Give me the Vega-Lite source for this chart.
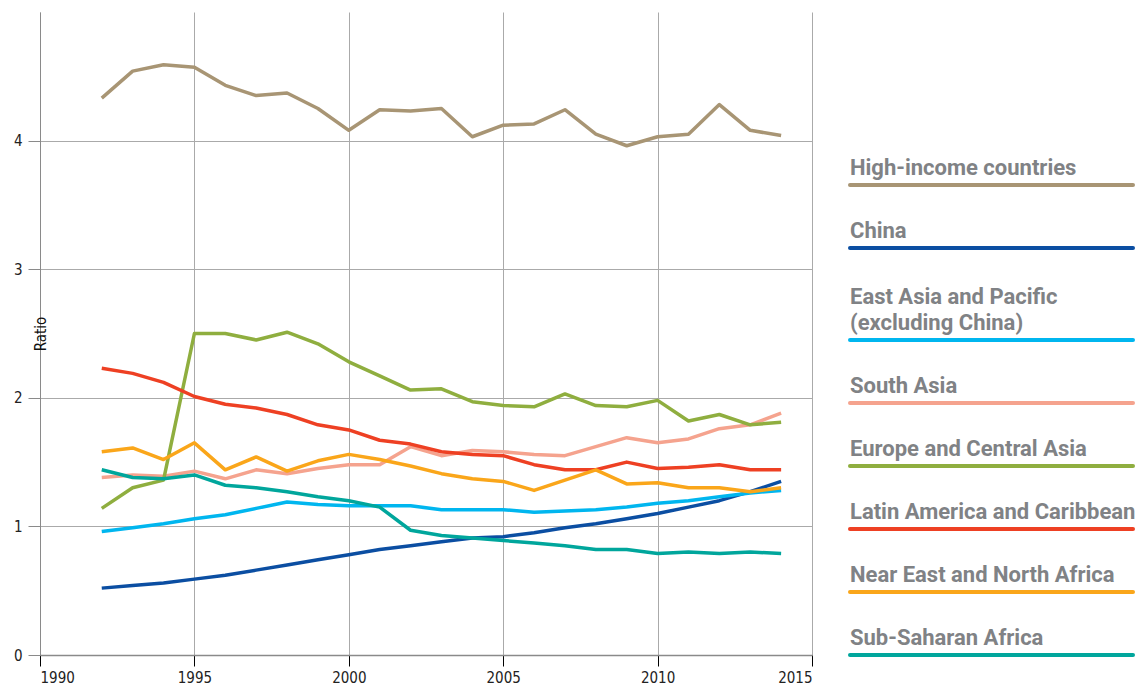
{
  "$schema": "https://vega.github.io/schema/vega-lite/v6.json",
  "background": "white",
  "padding": {"left": 13, "top": 12, "right": 4, "bottom": 0},
  "config": {
    "view": {"stroke": null},
    "font": "Roboto"
  },
  "datasets": {
    "series": [
      {"year": 1992, "High-income countries": 4.33, "China": 0.52, "East Asia and Pacific (excluding China)": 0.96, "South Asia": 1.38, "Europe and Central Asia": 1.14, "Latin America and Caribbean": 2.23, "Near East and North Africa": 1.58, "Sub-Saharan Africa": 1.44},
      {"year": 1993, "High-income countries": 4.54, "China": 0.54, "East Asia and Pacific (excluding China)": 0.99, "South Asia": 1.40, "Europe and Central Asia": 1.30, "Latin America and Caribbean": 2.19, "Near East and North Africa": 1.61, "Sub-Saharan Africa": 1.38},
      {"year": 1994, "High-income countries": 4.59, "China": 0.56, "East Asia and Pacific (excluding China)": 1.02, "South Asia": 1.39, "Europe and Central Asia": 1.36, "Latin America and Caribbean": 2.12, "Near East and North Africa": 1.52, "Sub-Saharan Africa": 1.37},
      {"year": 1995, "High-income countries": 4.57, "China": 0.59, "East Asia and Pacific (excluding China)": 1.06, "South Asia": 1.43, "Europe and Central Asia": 2.50, "Latin America and Caribbean": 2.01, "Near East and North Africa": 1.65, "Sub-Saharan Africa": 1.40},
      {"year": 1996, "High-income countries": 4.43, "China": 0.62, "East Asia and Pacific (excluding China)": 1.09, "South Asia": 1.37, "Europe and Central Asia": 2.50, "Latin America and Caribbean": 1.95, "Near East and North Africa": 1.44, "Sub-Saharan Africa": 1.32},
      {"year": 1997, "High-income countries": 4.35, "China": 0.66, "East Asia and Pacific (excluding China)": 1.14, "South Asia": 1.44, "Europe and Central Asia": 2.45, "Latin America and Caribbean": 1.92, "Near East and North Africa": 1.54, "Sub-Saharan Africa": 1.30},
      {"year": 1998, "High-income countries": 4.37, "China": 0.70, "East Asia and Pacific (excluding China)": 1.19, "South Asia": 1.41, "Europe and Central Asia": 2.51, "Latin America and Caribbean": 1.87, "Near East and North Africa": 1.43, "Sub-Saharan Africa": 1.27},
      {"year": 1999, "High-income countries": 4.25, "China": 0.74, "East Asia and Pacific (excluding China)": 1.17, "South Asia": 1.45, "Europe and Central Asia": 2.42, "Latin America and Caribbean": 1.79, "Near East and North Africa": 1.51, "Sub-Saharan Africa": 1.23},
      {"year": 2000, "High-income countries": 4.08, "China": 0.78, "East Asia and Pacific (excluding China)": 1.16, "South Asia": 1.48, "Europe and Central Asia": 2.28, "Latin America and Caribbean": 1.75, "Near East and North Africa": 1.56, "Sub-Saharan Africa": 1.20},
      {"year": 2001, "High-income countries": 4.24, "China": 0.82, "East Asia and Pacific (excluding China)": 1.16, "South Asia": 1.48, "Europe and Central Asia": 2.17, "Latin America and Caribbean": 1.67, "Near East and North Africa": 1.52, "Sub-Saharan Africa": 1.15},
      {"year": 2002, "High-income countries": 4.23, "China": 0.85, "East Asia and Pacific (excluding China)": 1.16, "South Asia": 1.62, "Europe and Central Asia": 2.06, "Latin America and Caribbean": 1.64, "Near East and North Africa": 1.47, "Sub-Saharan Africa": 0.97},
      {"year": 2003, "High-income countries": 4.25, "China": 0.88, "East Asia and Pacific (excluding China)": 1.13, "South Asia": 1.55, "Europe and Central Asia": 2.07, "Latin America and Caribbean": 1.58, "Near East and North Africa": 1.41, "Sub-Saharan Africa": 0.93},
      {"year": 2004, "High-income countries": 4.03, "China": 0.91, "East Asia and Pacific (excluding China)": 1.13, "South Asia": 1.59, "Europe and Central Asia": 1.97, "Latin America and Caribbean": 1.56, "Near East and North Africa": 1.37, "Sub-Saharan Africa": 0.91},
      {"year": 2005, "High-income countries": 4.12, "China": 0.92, "East Asia and Pacific (excluding China)": 1.13, "South Asia": 1.58, "Europe and Central Asia": 1.94, "Latin America and Caribbean": 1.55, "Near East and North Africa": 1.35, "Sub-Saharan Africa": 0.89},
      {"year": 2006, "High-income countries": 4.13, "China": 0.95, "East Asia and Pacific (excluding China)": 1.11, "South Asia": 1.56, "Europe and Central Asia": 1.93, "Latin America and Caribbean": 1.48, "Near East and North Africa": 1.28, "Sub-Saharan Africa": 0.87},
      {"year": 2007, "High-income countries": 4.24, "China": 0.99, "East Asia and Pacific (excluding China)": 1.12, "South Asia": 1.55, "Europe and Central Asia": 2.03, "Latin America and Caribbean": 1.44, "Near East and North Africa": 1.36, "Sub-Saharan Africa": 0.85},
      {"year": 2008, "High-income countries": 4.05, "China": 1.02, "East Asia and Pacific (excluding China)": 1.13, "South Asia": 1.62, "Europe and Central Asia": 1.94, "Latin America and Caribbean": 1.44, "Near East and North Africa": 1.44, "Sub-Saharan Africa": 0.82},
      {"year": 2009, "High-income countries": 3.96, "China": 1.06, "East Asia and Pacific (excluding China)": 1.15, "South Asia": 1.69, "Europe and Central Asia": 1.93, "Latin America and Caribbean": 1.50, "Near East and North Africa": 1.33, "Sub-Saharan Africa": 0.82},
      {"year": 2010, "High-income countries": 4.03, "China": 1.10, "East Asia and Pacific (excluding China)": 1.18, "South Asia": 1.65, "Europe and Central Asia": 1.98, "Latin America and Caribbean": 1.45, "Near East and North Africa": 1.34, "Sub-Saharan Africa": 0.79},
      {"year": 2011, "High-income countries": 4.05, "China": 1.15, "East Asia and Pacific (excluding China)": 1.20, "South Asia": 1.68, "Europe and Central Asia": 1.82, "Latin America and Caribbean": 1.46, "Near East and North Africa": 1.30, "Sub-Saharan Africa": 0.80},
      {"year": 2012, "High-income countries": 4.28, "China": 1.20, "East Asia and Pacific (excluding China)": 1.23, "South Asia": 1.76, "Europe and Central Asia": 1.87, "Latin America and Caribbean": 1.48, "Near East and North Africa": 1.30, "Sub-Saharan Africa": 0.79},
      {"year": 2013, "High-income countries": 4.08, "China": 1.27, "East Asia and Pacific (excluding China)": 1.26, "South Asia": 1.79, "Europe and Central Asia": 1.79, "Latin America and Caribbean": 1.44, "Near East and North Africa": 1.27, "Sub-Saharan Africa": 0.80},
      {"year": 2014, "High-income countries": 4.04, "China": 1.35, "East Asia and Pacific (excluding China)": 1.28, "South Asia": 1.88, "Europe and Central Asia": 1.81, "Latin America and Caribbean": 1.44, "Near East and North Africa": 1.30, "Sub-Saharan Africa": 0.79}
    ],
    "legend": [
      {"region": "High-income countries", "label": "High-income countries", "lines": 1, "slot": 7.46},
      {"region": "China", "label": "China", "lines": 1, "slot": 6.46},
      {"region": "East Asia and Pacific (excluding China)", "label": "East Asia and Pacific\n(excluding China)", "lines": 2, "slot": 5},
      {"region": "South Asia", "label": "South Asia", "lines": 1, "slot": 4},
      {"region": "Europe and Central Asia", "label": "Europe and Central Asia", "lines": 1, "slot": 3},
      {"region": "Latin America and Caribbean", "label": "Latin America and Caribbean", "lines": 1, "slot": 2},
      {"region": "Near East and North Africa", "label": "Near East and North Africa", "lines": 1, "slot": 1},
      {"region": "Sub-Saharan Africa", "label": "Sub-Saharan Africa", "lines": 1, "slot": 0}
    ]
  },
  "hconcat": [
    {
      "width": 772,
      "height": 643,
      "data": {"name": "series"},
      "transform": [
        {"fold": ["High-income countries", "China", "East Asia and Pacific (excluding China)", "South Asia", "Europe and Central Asia", "Latin America and Caribbean", "Near East and North Africa", "Sub-Saharan Africa"], "as": ["region", "value"]}
      ],
      "mark": {"type": "line", "strokeWidth": 3.5, "strokeJoin": "round", "strokeCap": "butt"},
      "encoding": {
        "x": {
          "field": "year", "type": "quantitative",
          "scale": {"domain": [1990, 2015], "nice": false, "zero": false},
          "axis": {
            "values": [1990, 1995, 2000, 2005, 2010, 2015],
            "format": "d", "title": null,
            "grid": true, "gridColor": "#aaaaaa", "gridWidth": 1,
            "domainColor": "#8a8a8a", "domainWidth": 1.5,
            "tickColor": "#000000", "tickSize": 11, "tickWidth": 1,
            "labelFontSize": 15, "labelColor": "#222222", "labelPadding": 4,
            "labelFont": "DejaVu Sans Condensed"
          }
        },
        "y": {
          "field": "value", "type": "quantitative",
          "scale": {"domain": [0, 5], "nice": false},
          "axis": {
            "values": [0, 1, 2, 3, 4],
            "title": "Ratio", "titleX": 0, "titleFontSize": 15, "titleFontWeight": "normal",
            "titleColor": "#111111", "titleFont": "DejaVu Sans Condensed",
            "titleBaseline": "middle",
            "grid": true, "gridColor": "#aaaaaa", "gridWidth": 1,
            "domainColor": "#8a8a8a", "domainWidth": 1,
            "tickColor": "#8a8a8a", "tickSize": 12,
            "labelFontSize": 15, "labelColor": "#222222", "labelPadding": 6,
            "labelFont": "DejaVu Sans Condensed"
          }
        },
        "color": {
          "field": "region", "type": "nominal", "legend": null,
          "scale": {
            "domain": ["High-income countries", "China", "East Asia and Pacific (excluding China)", "South Asia", "Europe and Central Asia", "Latin America and Caribbean", "Near East and North Africa", "Sub-Saharan Africa"],
            "range": ["#A89574", "#0B4EA2", "#00B6EF", "#F5A38E", "#8FAE3F", "#EE4023", "#FAA61A", "#00A69C"]
          }
        }
      }
    },
    {
      "width": 283,
      "height": 643,
      "data": {"name": "legend"},
      "layer": [
        {
          "mark": {"type": "rule", "strokeWidth": 4, "strokeCap": "round"},
          "encoding": {
            "x": {"datum": 0, "type": "quantitative", "scale": {"domain": [0, 1]}, "axis": null},
            "x2": {"datum": 1},
            "y": {"field": "slot", "type": "quantitative", "scale": {"domain": [0, 10.206], "nice": false}, "axis": null},
            "color": {"field": "region", "type": "nominal", "legend": null}
          }
        },
        {
          "transform": [{"filter": "datum.lines == 1"}],
          "mark": {"type": "text", "align": "left", "baseline": "bottom", "dy": -5, "fontSize": 22, "fontWeight": "bold", "font": "Roboto", "color": "#808285", "lineBreak": "\n", "lineHeight": 26},
          "encoding": {
            "x": {"datum": 0, "type": "quantitative"},
            "y": {"field": "slot", "type": "quantitative"},
            "text": {"field": "label"}
          }
        },
        {
          "transform": [{"filter": "datum.lines == 2"}],
          "mark": {"type": "text", "align": "left", "baseline": "bottom", "dy": -31, "fontSize": 22, "fontWeight": "bold", "font": "Roboto", "color": "#808285", "lineBreak": "\n", "lineHeight": 26},
          "encoding": {
            "x": {"datum": 0, "type": "quantitative"},
            "y": {"field": "slot", "type": "quantitative"},
            "text": {"field": "label"}
          }
        }
      ]
    }
  ],
  "spacing": 38,
  "bounds": "flush"
}
